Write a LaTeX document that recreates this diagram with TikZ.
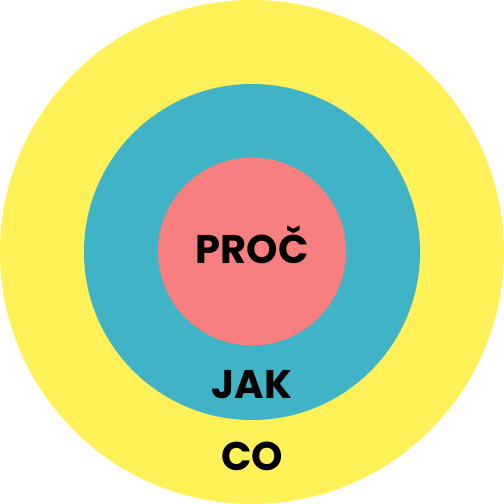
\documentclass[tikz,border=0pt]{standalone}
\usepackage{fontspec}
\setmainfont{Poppins}
\definecolor{kruhco}{HTML}{FFF157}
\definecolor{kruhjak}{HTML}{40B3C7}
\definecolor{kruhproc}{HTML}{F77F7F}
\tikzset{
	popisek/.style={font=\fontsize{40}{40}\selectfont\bfseries, text=black, inner sep=0pt, anchor=base}
}
\begin{document}
\begin{tikzpicture}[x=1pt,y=-1pt]
		% Bounding box
		\useasboundingbox (0,0) rectangle (504,504);
		
		% Draw circles
		\fill[kruhco] (252,252) circle (252); % outer
		\fill[kruhjak] (252,252) circle (168); % middle
		\fill[kruhproc] (252,251.5) circle (94); % inner
		
		% Add labels
		\node[popisek] (proc) at (252,263) {PROČ};
		\node[popisek] (jak) at (252,398) {JAK};
		\node[popisek] (co) at (252,470) {CO};
	\end{tikzpicture}
\end{document}
